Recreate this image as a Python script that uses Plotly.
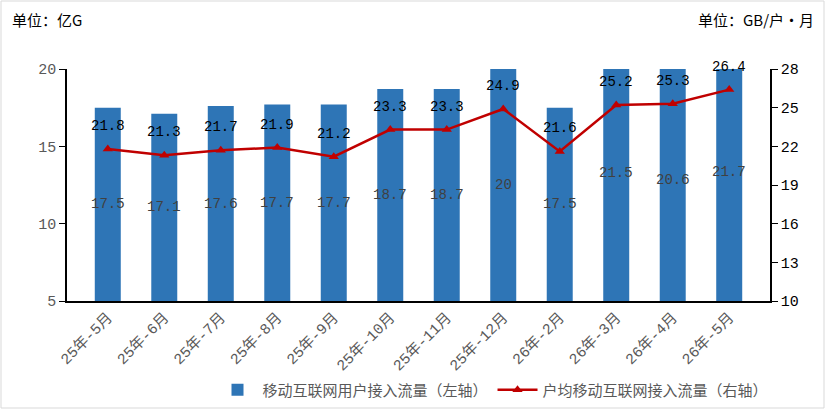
import plotly.graph_objects as go

categories = ["25年-5月", "25年-6月", "25年-7月", "25年-8月", "25年-9月", "25年-10月",
              "25年-11月", "25年-12月", "26年-2月", "26年-3月", "26年-4月", "26年-5月"]
traffic = [17.5, 17.1, 17.6, 17.7, 17.7, 18.7, 18.7, 20, 17.5, 21.5, 20.6, 21.7]
per_user = [21.8, 21.3, 21.7, 21.9, 21.2, 23.3, 23.3, 24.9, 21.6, 25.2, 25.3, 26.4]
left_ticks = [5, 10, 15, 20]
right_ticks = [10, 13, 16, 19, 22, 25, 28]

W, H = 825, 409
L, R, T, B = 67, 55, 69, 108
PW, PH = W - L - R, H - T - B

def px(x):
    return (x - L) / PW

def py(y):
    return (H - B - y) / PH

NUM_FONT = "Liberation Mono, Noto Sans CJK SC"
CJK_FONT = "Noto Sans CJK SC, Liberation Mono"

fig = go.Figure()
fig.add_trace(go.Bar(
    x=categories, y=traffic, name="移动互联网用户接入流量（左轴）",
    marker=dict(color="#2E75B6", line=dict(width=0)), yaxis="y",
))
fig.add_trace(go.Scatter(
    x=categories, y=per_user, name="户均移动互联网接入流量（右轴）",
    mode="lines+markers", yaxis="y2",
    line=dict(color="#C00000", width=2.5),
    marker=dict(symbol="triangle-up", size=9, color="#C00000"),
))

annotations = []
for c, v in zip(categories, traffic):
    annotations.append(dict(x=c, y=(left_ticks[0] + v) / 2, xref="x", yref="y", text=str(v),
                            showarrow=False, font=dict(family=NUM_FONT, size=14, color="#404040")))
for c, v in zip(categories, per_user):
    annotations.append(dict(x=c, y=v, xref="x", yref="y2", text=str(v), yshift=23,
                            showarrow=False, font=dict(family=NUM_FONT, size=14, color="#000000")))
annotations.append(dict(x=px(10), y=py(20), xref="paper", yref="paper", text="单位：亿G",
                        xanchor="left", yanchor="middle", showarrow=False,
                        font=dict(family=CJK_FONT, size=15, color="#000000")))
annotations.append(dict(x=px(816), y=py(20), xref="paper", yref="paper", text="单位：GB/户·月",
                        xanchor="right", yanchor="middle", showarrow=False,
                        font=dict(family=CJK_FONT, size=15, color="#000000")))

fig.update_layout(
    width=W, height=H,
    margin=dict(l=L, r=R, t=T, b=B, pad=0, autoexpand=False),
    paper_bgcolor="white", plot_bgcolor="white",
    bargap=0.54,
    showlegend=True,
    legend=dict(orientation="h", x=px(493), xanchor="center", y=py(390), yanchor="middle",
                font=dict(family=CJK_FONT, size=15, color="#595959"),
                itemwidth=40, bgcolor="rgba(0,0,0,0)"),
    xaxis=dict(type="category", showline=True, linecolor="black", linewidth=1.5,
               ticks="", tickangle=-45, showgrid=False, automargin=False,
               tickfont=dict(family=NUM_FONT, size=15, color="#595959")),
    yaxis=dict(range=[left_ticks[0], left_ticks[-1]], tickvals=left_ticks, showline=True,
               linecolor="black", linewidth=1.5, ticks="outside", ticklen=6, tickcolor="black",
               showgrid=False, zeroline=False, automargin=False,
               tickfont=dict(family=NUM_FONT, size=15, color="#595959")),
    yaxis2=dict(range=[right_ticks[0], right_ticks[-1]], tickvals=right_ticks, overlaying="y",
                side="right", showline=True, linecolor="black", linewidth=1.5,
                ticks="outside", ticklen=6, tickcolor="black", showgrid=False, zeroline=False,
                automargin=False,
                tickfont=dict(family=NUM_FONT, size=15, color="#000000")),
    annotations=annotations,
    shapes=[dict(type="rect", xref="paper", yref="paper", x0=px(1), x1=px(824),
                 y0=py(408), y1=py(1), line=dict(color="#D9D9D9", width=1), layer="below")],
)

fig.write_html("out.html")
